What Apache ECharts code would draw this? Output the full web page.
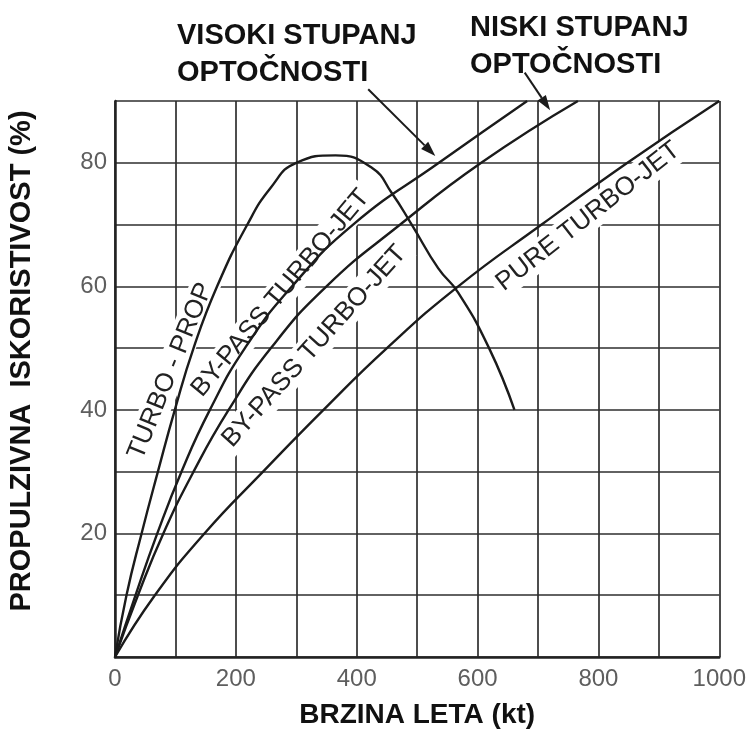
<!DOCTYPE html>
<html>
<head>
<meta charset="utf-8">
<title>Propulzivna iskoristivost</title>
<script src="https://cdn.jsdelivr.net/npm/echarts@6/dist/echarts.min.js"></script>
<style>
  html, body { margin: 0; padding: 0; background: #fff; }
  #chart { width: 749px; height: 734px; }
</style>
</head>
<body>
<div id="chart"></div>
<script>
// [brzina leta (kt), propulzivna iskoristivost (%)]
const turboProp = [[0, 0], [19, 10], [44, 20], [71, 30], [99, 40], [130, 50], [169, 60], [219, 70], [258, 76], [300, 80],
  [365, 81.2], [425, 79.2], [458, 75.1], [491, 70], [535, 62.9], [567, 59.1], [619, 50], [661, 40]];
const byPassHigh = [[0, 0], [34, 10], [70, 20], [110, 30], [157, 40], [215, 50], [293, 60], [394, 70], [536, 80], [682, 90]];
const byPassLow = [[0, 0], [38, 10], [80, 20], [130, 30], [188, 40], [258, 50], [350, 60], [472, 70], [606, 80], [766, 90]];
const pureTurboJet = [[0, 0], [66, 10], [148, 20], [245, 30], [345, 40], [450, 50], [568, 60], [706, 70], [848, 80], [1000, 90]];

const xTickLabels = [0, 200, 400, 600, 800, 1000];
const yTickLabels = [20, 40, 60, 80];

// text placed along the curves (data position of the centre, angle in degrees)
const curveLabels = [
  { text: 'TURBO - PROP', at: [92, 46.3], angle: 68 },
  { text: 'BY-PASS TURBO-JET', at: [274, 58.9], angle: 50 },
  { text: 'BY-PASS TURBO-JET', at: [330, 50.3], angle: 48 },
  { text: 'PURE TURBO-JET', at: [783, 71.3], angle: 38 }
];
// arrows from the notes to the by-pass curves
const arrows = [
  { from: [419, 91.9], to: [530, 81.1] },
  { from: [678, 94.6], to: [720, 88.5] }
];

const chart = echarts.init(document.getElementById('chart'));

function curve(name, data) {
  return {
    name: name,
    type: 'line',
    data: data,
    smooth: 0.5,
    symbol: 'none',
    z: 3,
    lineStyle: { color: '#1b1b1b', width: 2.4 }
  };
}

chart.setOption({
  animation: false,
  backgroundColor: '#fff',
  grid: { left: 115, right: 26, top: 101, bottom: 77 },
  xAxis: {
    type: 'value',
    min: 0,
    max: 1000,
    interval: 100,
    name: 'BRZINA LETA (kt)',
    nameLocation: 'middle',
    nameGap: 44,
    nameTextStyle: { fontFamily: 'Liberation Sans', fontWeight: 'bold', fontSize: 28, color: '#111' },
    axisLine: { show: true, lineStyle: { color: '#222', width: 2.5 } },
    axisTick: { show: false },
    axisLabel: {
      margin: 10,
      fontFamily: 'Liberation Sans',
      fontSize: 24,
      color: '#5e5e5e',
      formatter: v => xTickLabels.includes(v) ? String(v) : ''
    },
    splitLine: { show: true, lineStyle: { color: '#2e2e2e', width: 1.7 } }
  },
  yAxis: {
    type: 'value',
    min: 0,
    max: 90,
    interval: 10,
    axisLine: { show: true, lineStyle: { color: '#222', width: 2.5 } },
    axisTick: { show: false },
    axisLabel: {
      margin: 8,
      fontFamily: 'Liberation Sans',
      fontSize: 24,
      color: '#5e5e5e',
      formatter: v => yTickLabels.includes(v) ? String(v) : ''
    },
    splitLine: { show: true, lineStyle: { color: '#2e2e2e', width: 1.7 } }
  },
  series: [
    curve('TURBO-PROP', turboProp),
    curve('BY-PASS TURBO-JET (visoki)', byPassHigh),
    curve('BY-PASS TURBO-JET (niski)', byPassLow),
    curve('PURE TURBO-JET', pureTurboJet)
  ]
});

// labels and arrows are placed through the grid's own scale
const px = p => chart.convertToPixel({ gridIndex: 0 }, p);
const elements = [];

curveLabels.forEach(l => {
  const p = px(l.at);
  elements.push({
    type: 'text',
    x: p[0],
    y: p[1],
    rotation: l.angle * Math.PI / 180,
    z: 1,
    style: {
      text: l.text,
      font: '26px "Liberation Sans"',
      fill: '#222',
      align: 'center',
      verticalAlign: 'middle',
      backgroundColor: '#fff',
      padding: [2, 5]
    }
  });
});

arrows.forEach(a => {
  const p0 = px(a.from);
  const p1 = px(a.to);
  const dx = p1[0] - p0[0], dy = p1[1] - p0[1];
  const len = Math.sqrt(dx * dx + dy * dy);
  const ux = dx / len, uy = dy / len;
  const hl = 15, hw = 5;
  const bx = p1[0] - ux * hl, by = p1[1] - uy * hl;
  elements.push({
    type: 'line',
    z: 10,
    shape: { x1: p0[0], y1: p0[1], x2: bx, y2: by },
    style: { stroke: '#1b1b1b', lineWidth: 2 }
  });
  elements.push({
    type: 'polygon',
    z: 10,
    shape: { points: [[p1[0], p1[1]], [bx - uy * hw, by + ux * hw], [bx + uy * hw, by - ux * hw]] },
    style: { fill: '#1b1b1b' }
  });
});

// y axis title and the two notes at the top
elements.push({
  type: 'text',
  x: 22,
  y: 361,
  rotation: Math.PI / 2,
  style: {
    text: 'PROPULZIVNA  ISKORISTIVOST (%)',
    font: 'bold 29px "Liberation Sans"',
    fill: '#111',
    align: 'center',
    verticalAlign: 'middle'
  }
});
elements.push({
  type: 'text',
  left: 177,
  top: 17,
  style: {
    text: 'VISOKI STUPANJ\nOPTOČNOSTI',
    font: 'bold 29px "Liberation Sans"',
    lineHeight: 37,
    fill: '#111'
  }
});
elements.push({
  type: 'text',
  left: 470,
  top: 9,
  style: {
    text: 'NISKI STUPANJ\nOPTOČNOSTI',
    font: 'bold 29px "Liberation Sans"',
    lineHeight: 37,
    fill: '#111'
  }
});

chart.setOption({ graphic: { elements: elements } });
</script>
</body>
</html>
